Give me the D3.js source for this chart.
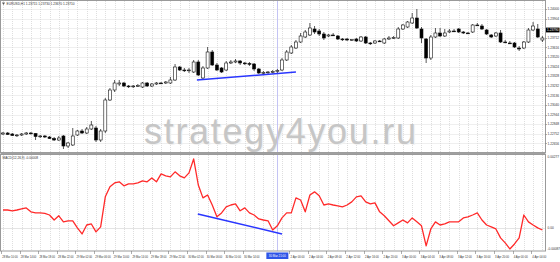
<!DOCTYPE html>
<html>
<head>
<meta charset="utf-8">
<script src="https://cdn.jsdelivr.net/npm/d3@7"></script>
<style>
  body { margin: 0; background: #fff; }
  svg { display: block; font-family: "Liberation Sans", Arial, sans-serif; }
</style>
</head>
<body>
<div id="chartContainer"></div>
<script>
// EURUSD H1 bars
const opens = [1.2275,1.2276,1.2275,1.22735,1.2274,1.2275,1.2276,1.22755,1.22725,1.2273,1.2272,1.22705,1.2269,1.2273,1.2263,1.2264,1.2274,1.2278,1.2276,1.2280,
  1.2281,1.2269,1.2278,1.2309,1.2319,1.2325,1.2326,1.2323,1.23225,1.2323,1.2322,1.2326,1.2323,1.2325,1.2326,1.2326,1.2326,1.2329,1.2342,1.2339,
  1.23385,1.2337,1.2347,1.2331,1.2341,1.2357,1.2344,1.2341,1.2339,1.2346,1.2347,1.2348,1.2346,1.23455,1.2345,1.2340,1.2336,1.23365,1.2337,1.23375,
  1.2339,1.2349,1.2356,1.2361,1.2367,1.2372,1.2374,1.2380,1.2378,1.2375,1.2373,1.2374,1.2373,1.2370,1.2370,1.2369,1.2370,1.2368,1.2372,1.2366,
  1.2366,1.2368,1.2366,1.2370,1.2371,1.2371,1.2380,1.2382,1.2386,1.2391,1.2380,1.2370,1.2351,1.2372,1.2376,1.2373,1.2377,1.2378,1.2380,1.2377,
  1.2376,1.2377,1.2384,1.2383,1.2379,1.2374,1.2373,1.2376,1.2367,1.2366,1.2366,1.2361,1.2361,1.2367,1.2379,1.2380,1.2369];
const highs = [1.2277,1.2277,1.2276,1.2275,1.2276,1.2277,1.2277,1.2276,1.2274,1.2274,1.2273,1.2272,1.2273,1.2274,1.2267,1.2281,1.2279,1.2280,1.2282,1.2288,
  1.2283,1.2280,1.2311,1.2321,1.2329,1.2329,1.2327,1.2324,1.2324,1.2325,1.2327,1.2327,1.2326,1.2327,1.2327,1.2328,1.2332,1.2345,1.2343,1.2341,
  1.2341,1.2349,1.2349,1.2343,1.2362,1.2359,1.2346,1.2342,1.2348,1.2349,1.2350,1.2349,1.2347,1.2347,1.2346,1.2341,1.2338,1.2338,1.2339,1.2340,
  1.2351,1.2359,1.2364,1.2369,1.2376,1.2379,1.2386,1.2383,1.2380,1.2377,1.2375,1.2376,1.2374,1.2371,1.2371,1.2370,1.2371,1.2373,1.2373,1.2367,
  1.2369,1.2369,1.2371,1.2373,1.2373,1.2382,1.2385,1.2388,1.2396,1.2400,1.2382,1.2371,1.2374,1.2381,1.2381,1.2380,1.2380,1.2380,1.2381,1.2378,
  1.2377,1.2385,1.2386,1.2385,1.2380,1.2375,1.2377,1.2379,1.2369,1.2368,1.2367,1.2363,1.2368,1.2381,1.2387,1.2385,1.2373];
const lows = [1.2274,1.2274,1.2273,1.2272,1.2273,1.2274,1.22745,1.2269,1.2271,1.2271,1.2270,1.2268,1.2268,1.2260,1.2261,1.2263,1.2273,1.2275,1.2275,1.2279,
  1.2267,1.2267,1.2276,1.2308,1.2317,1.2323,1.2322,1.2321,1.2321,1.2322,1.2321,1.2322,1.2322,1.2324,1.2325,1.2325,1.2325,1.2328,1.2338,1.2337,
  1.2336,1.2336,1.2333,1.2329,1.2340,1.2343,1.2338,1.2336,1.2338,1.2345,1.2346,1.2344,1.2344,1.2343,1.2338,1.2335,1.2335,1.2335,1.23355,1.2336,
  1.2338,1.2348,1.2355,1.2360,1.2366,1.2371,1.2373,1.2375,1.2373,1.2369,1.2372,1.2373,1.2369,1.2368,1.2368,1.2368,1.2367,1.2367,1.2365,1.2364,
  1.2365,1.2367,1.2365,1.2369,1.2370,1.2370,1.2379,1.2381,1.2385,1.2380,1.2366,1.2346,1.2349,1.2371,1.2372,1.2372,1.2376,1.2377,1.2376,1.2375,
  1.2375,1.2376,1.2383,1.2379,1.2374,1.2371,1.2372,1.2366,1.2366,1.2365,1.2361,1.2358,1.2360,1.2366,1.2378,1.2371,1.2367];
const closes = [1.2276,1.22745,1.22735,1.2274,1.2275,1.2276,1.22755,1.22725,1.2273,1.2272,1.22705,1.2269,1.2271,1.2263,1.2266,1.2273,1.2278,1.2276,1.2280,1.2284,
  1.2269,1.2278,1.2309,1.2319,1.2326,1.2326,1.2323,1.23225,1.2323,1.23235,1.2326,1.2323,1.2325,1.2326,1.23255,1.2327,1.2329,1.2342,1.2339,1.23385,
  1.2339,1.2347,1.2334,1.2341,1.2357,1.2344,1.2339,1.2337,1.2346,1.2347,1.2348,1.2346,1.23455,1.2345,1.2340,1.2336,1.23365,1.2337,1.23375,1.23385,
  1.2349,1.2357,1.2362,1.2367,1.2373,1.2377,1.2381,1.2377,1.2375,1.2371,1.2374,1.23735,1.2370,1.23695,1.2369,1.23695,1.2368,1.2372,1.2366,1.23655,
  1.2368,1.23675,1.2370,1.2371,1.23715,1.2380,1.2384,1.2387,1.2391,1.2381,1.2371,1.2351,1.2372,1.2376,1.2373,1.2376,1.2378,1.23775,1.2377,1.2376,
  1.23755,1.2384,1.23835,1.2380,1.2375,1.2372,1.2376,1.2367,1.23665,1.23655,1.2362,1.2360,1.2367,1.2379,1.2383,1.2372,1.2371];

// lower window indicator
const macd = [0.00068,0.00068,0.00065,0.00068,0.00072,0.00076,0.00061,0.00057,0.00057,0.00055,0.00049,0.00030,0.00046,0.00023,0.00027,0.00027,0.00000,-0.00023,0.00011,0.00015,
  -0.00015,0.00004,0.00118,0.00156,0.00171,0.00175,0.00160,0.00167,0.00167,0.00171,0.00179,0.00175,0.00190,0.00175,0.00205,0.00198,0.00194,0.00213,0.00198,0.00190,
  0.00209,0.00262,0.00163,0.00114,0.00125,0.00087,0.00042,0.00057,0.00080,0.00087,0.00091,0.00065,0.00076,0.00057,0.00049,0.00034,0.00030,0.00027,-0.00008,0.00008,
  0.00038,0.00057,0.00057,0.00114,0.00106,0.00061,0.00125,0.00137,0.00122,0.00087,0.00091,0.00087,0.00084,0.00080,0.00087,0.00099,0.00118,0.00122,0.00099,0.00091,
  0.00095,0.00061,0.00046,0.00027,0.00008,0.00019,0.00030,0.00019,0.00038,0.00023,0.00008,-0.00068,-0.00004,0.00023,0.00011,0.00015,0.00023,0.00023,0.00023,0.00038,
  0.00042,0.00049,0.00057,0.00030,0.00011,0.00004,-0.00004,-0.00038,-0.00057,-0.00080,-0.00061,-0.00038,0.00049,0.00023,0.00011,0.00000,-0.00008];

const priceTicks = [1.24000,1.23904,1.23808,1.23712,1.23616,1.23520,1.23424,1.23328,1.23232,1.23136,1.23040,1.22944,1.22848,1.22752,1.22656];
const macdTicks = [0.00277, 0, -0.00087];
const macdTickLabels = ["0.00277", "0.00", "-0.00087"];

// bar 56 label sits under the vertical line's date box, so it is not listed
const timeBars = [0,4,8,12,16,20,24,28,32,36,40,44,48,52,62,66,70,74,78,82,86,90,94,98,102,106,110,114];
const timeLabels = ["28 Mar 10:00","28 Mar 14:00","28 Mar 18:00","28 Mar 22:00","29 Mar 02:00","29 Mar 06:00","29 Mar 10:00","29 Mar 14:00",
  "29 Mar 18:00","29 Mar 22:00","30 Mar 02:00","30 Mar 06:00","30 Mar 10:00","30 Mar 14:00","2 Apr 00:00","2 Apr 04:00",
  "2 Apr 08:00","2 Apr 12:00","2 Apr 16:00","2 Apr 20:00","3 Apr 00:00","3 Apr 04:00","3 Apr 08:00","3 Apr 12:00","3 Apr 16:00",
  "3 Apr 20:00","4 Apr 00:00","4 Apr 04:00"];

const priceTrend = [{ bar: 41.7, value: 1.2329 }, { bar: 63, value: 1.2337 }];
const macdTrend = [{ bar: 41.9, value: 0.00053 }, { bar: 60, value: -0.00023 }];
const vlineBar = 59;
const vlineLabel = "30 Mar 21:00";
const lastPrice = 1.23790;
const chartTitle = "EURUSD,H1  1.23715 1.23730 1.23670 1.23710";
const macdTitle = "MACD(12,26,9) -0.00008";
const watermark = "strategy4you.ru";

function createChart() {
    const width = 560;
    const height = 262;
    const plotLeft = 0.5;
    const plotRight = 545.5;
    const priceTop = 4, priceBottom = 152;
    const macdTop = 155, macdBottom = 251;
    const fs = 3.2;

    const x = d3.scaleLinear()
        .domain([0, closes.length - 1])
        .range([3, 542.4]);

    const y = d3.scaleLinear()
        .domain([1.2405, 1.2257])
        .range([priceTop, priceBottom]);

    const yM = d3.scaleLinear()
        .domain([0.00277, -0.00087])
        .range([macdTop, 250.8]);

    const svg = d3.create("svg")
        .attr("viewBox", [0, 0, width, height])
        .attr("width", width)
        .attr("height", height);

    svg.append("rect").attr("width", width).attr("height", height).attr("fill", "#fff");

    // grid
    const grid = svg.append("g").attr("stroke", "#d6d6d6").attr("stroke-dasharray", "1,1").attr("stroke-width", 0.8);
    grid.selectAll("line.h")
        .data(priceTicks)
        .join("line")
        .attr("x1", plotLeft).attr("x2", plotRight)
        .attr("y1", d => Math.round(y(d)) + 0.5).attr("y2", d => Math.round(y(d)) + 0.5);
    const gridBars = d3.range(0, closes.length, 2);
    grid.selectAll("line.v")
        .data(gridBars)
        .join("line")
        .attr("x1", d => Math.round(x(d)) + 0.5).attr("x2", d => Math.round(x(d)) + 0.5)
        .attr("y1", 1).attr("y2", priceBottom);
    grid.selectAll("line.vm")
        .data(gridBars)
        .join("line")
        .attr("x1", d => Math.round(x(d)) + 0.5).attr("x2", d => Math.round(x(d)) + 0.5)
        .attr("y1", macdTop).attr("y2", macdBottom);
    grid.append("line")
        .attr("x1", plotLeft).attr("x2", plotRight)
        .attr("y1", Math.round(yM(0)) + 0.5).attr("y2", Math.round(yM(0)) + 0.5)
        .attr("stroke", "#bbb");

    // watermark
    svg.append("text")
        .attr("x", 144).attr("y", 144)
        .attr("textLength", 272)
        .attr("font-size", 36)
        .attr("fill", "#f2f2f2")
        .attr("transform", "translate(1.2,1.2)")
        .text(watermark);
    svg.append("text")
        .attr("x", 144).attr("y", 144)
        .attr("textLength", 272)
        .attr("font-size", 36)
        .attr("fill", "#c6c6c6")
        .text(watermark);

    // vertical line object
    svg.append("line")
        .attr("x1", Math.round(x(vlineBar)) + 0.5).attr("x2", Math.round(x(vlineBar)) + 0.5)
        .attr("y1", 1).attr("y2", macdBottom)
        .attr("stroke", "#c4c4f4").attr("stroke-width", 1);

    // candles
    const bars = closes.map((c, i) => ({ i, o: opens[i], h: highs[i], l: lows[i], c }));
    const candles = svg.append("g");
    candles.selectAll("line")
        .data(bars)
        .join("line")
        .attr("x1", d => x(d.i)).attr("x2", d => x(d.i))
        .attr("y1", d => y(d.h)).attr("y2", d => y(d.l))
        .attr("stroke", "#111").attr("stroke-width", 0.7);
    candles.selectAll("rect")
        .data(bars)
        .join("rect")
        .attr("x", d => x(d.i) - 1.5)
        .attr("width", 3)
        .attr("y", d => y(Math.max(d.o, d.c)))
        .attr("height", d => Math.max(0.8, Math.abs(y(d.o) - y(d.c))))
        .attr("fill", d => d.c >= d.o ? "#fff" : "#000")
        .attr("stroke", "#111").attr("stroke-width", 0.6);

    // trend line on price
    svg.append("path")
        .attr("d", d3.line().x(d => x(d.bar)).y(d => y(d.value))(priceTrend))
        .attr("stroke", "#2a36ff").attr("stroke-width", 1.5).attr("fill", "none");

    // indicator line
    svg.append("path")
        .attr("d", d3.line().x((d, i) => x(i)).y(d => yM(d))(macd))
        .attr("stroke", "#ff2a2a").attr("stroke-width", 1.3).attr("fill", "none")
        .attr("stroke-linejoin", "round");

    svg.append("path")
        .attr("d", d3.line().x(d => x(d.bar)).y(d => yM(d.value))(macdTrend))
        .attr("stroke", "#2a36ff").attr("stroke-width", 1.5).attr("fill", "none");

    // frames
    svg.append("rect")
        .attr("x", plotLeft).attr("y", 0.5)
        .attr("width", plotRight - plotLeft).attr("height", priceBottom)
        .attr("fill", "none").attr("stroke", "#9a9a9a");
    svg.append("rect")
        .attr("x", plotLeft).attr("y", priceBottom + 0.5)
        .attr("width", plotRight - plotLeft).attr("height", 2)
        .attr("fill", "#a0a0a0");
    svg.append("rect")
        .attr("x", plotLeft).attr("y", macdTop - 0.5)
        .attr("width", plotRight - plotLeft).attr("height", macdBottom - macdTop + 0.5)
        .attr("fill", "none").attr("stroke", "#9a9a9a");

    // price axis (the label under the current-price box is left out)
    const shownTicks = priceTicks.filter(d => Math.abs(y(d) - y(lastPrice)) > 4);
    const pAxis = svg.append("g").attr("font-size", fs).attr("fill", "#333");
    pAxis.selectAll("line")
        .data(priceTicks)
        .join("line")
        .attr("x1", plotRight).attr("x2", plotRight + 1.5)
        .attr("y1", d => Math.round(y(d)) + 0.5).attr("y2", d => Math.round(y(d)) + 0.5)
        .attr("stroke", "#777").attr("stroke-width", 0.6);
    pAxis.selectAll("text")
        .data(shownTicks)
        .join("text")
        .attr("x", plotRight + 2)
        .attr("y", d => y(d) + 1.1)
        .attr("textLength", 11.5)
        .attr("lengthAdjust", "spacingAndGlyphs")
        .text(d => d.toFixed(5));

    svg.append("rect")
        .attr("x", plotRight + 0.5).attr("y", y(lastPrice) - 2.4)
        .attr("width", 13.5).attr("height", 4.8)
        .attr("fill", "#000");
    svg.append("text")
        .attr("x", plotRight + 1.5).attr("y", y(lastPrice) + 1.1)
        .attr("font-size", fs).attr("fill", "#fff")
        .attr("textLength", 11.5)
        .attr("lengthAdjust", "spacingAndGlyphs")
        .text(lastPrice.toFixed(5));

    // indicator axis
    const mAxis = svg.append("g").attr("font-size", fs).attr("fill", "#333");
    mAxis.selectAll("text")
        .data(macdTicks)
        .join("text")
        .attr("x", plotRight + 2)
        .attr("y", d => Math.min(Math.max(yM(d), macdTop + 1.8), macdBottom - 2) + 1.1)
        .text((d, i) => macdTickLabels[i]);

    // time axis
    const tAxis = svg.append("g").attr("font-size", fs).attr("fill", "#333");
    tAxis.selectAll("line")
        .data(timeBars)
        .join("line")
        .attr("x1", d => Math.round(x(d)) - 1.5).attr("x2", d => Math.round(x(d)) - 1.5)
        .attr("y1", macdBottom).attr("y2", macdBottom + 3)
        .attr("stroke", "#777").attr("stroke-width", 0.6);
    tAxis.selectAll("text")
        .data(timeBars)
        .join("text")
        .attr("x", d => x(d) - 0.8)
        .attr("y", macdBottom + 6.5)
        .attr("textLength", (d, i) => timeLabels[i].length > 11 ? 15.5 : 14)
        .attr("lengthAdjust", "spacingAndGlyphs")
        .text((d, i) => timeLabels[i]);

    svg.append("rect")
        .attr("x", x(vlineBar) - 11).attr("y", macdBottom + 1.5)
        .attr("width", 22).attr("height", 6.5)
        .attr("fill", "#2f55e8");
    svg.append("text")
        .attr("x", x(vlineBar)).attr("y", macdBottom + 6)
        .attr("text-anchor", "middle")
        .attr("font-size", fs).attr("fill", "#fff")
        .attr("textLength", 17)
        .attr("lengthAdjust", "spacingAndGlyphs")
        .text(vlineLabel);

    // window titles
    svg.append("path")
        .attr("d", "M2,2.5 L5,2.5 L3.5,5 Z")
        .attr("fill", "#555");
    svg.append("text")
        .attr("x", 6.5).attr("y", 5)
        .attr("font-size", fs).attr("fill", "#333")
        .text(chartTitle);
    svg.append("text")
        .attr("x", 2.5).attr("y", macdTop + 4)
        .attr("font-size", fs).attr("fill", "#333")
        .text(macdTitle);

    return svg.node();
}

document.getElementById("chartContainer").appendChild(createChart());
</script>
</body>
</html>
